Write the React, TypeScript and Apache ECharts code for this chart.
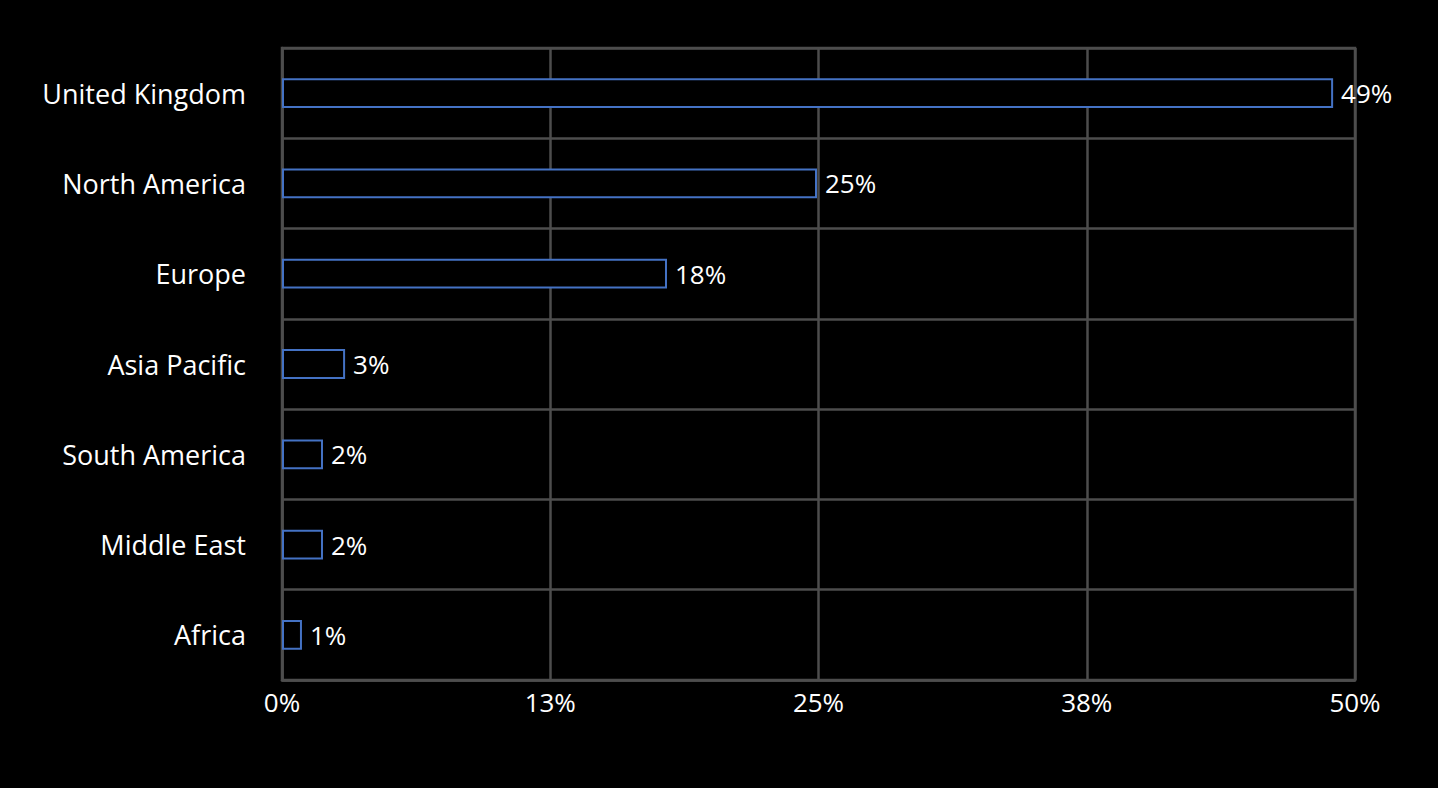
import React, { useEffect, useRef } from "react";
import * as echarts from "echarts";

const categories = ["United Kingdom", "North America", "Europe", "Asia Pacific", "South America", "Middle East", "Africa"];
const values = [48.98, 24.93, 17.94, 2.94, 1.91, 1.91, 0.93];
const axisMin = 0;
const axisMax = 50;
const axisInterval = 12.5;

export default function App() {
  const ref = useRef<HTMLDivElement>(null);
  useEffect(() => {
    if (!ref.current) return;
    const chart = echarts.init(ref.current, undefined, { renderer: "svg" });
    const font = "'Open Sans', sans-serif";
    const gridColor = "#4d4d4d";
    chart.setOption({
      animation: false,
      backgroundColor: "#000000",
      grid: {
        left: 282,
        right: 83,
        top: 48,
        bottom: 108,
        show: true,
        borderColor: gridColor,
        borderWidth: 2.5,
        backgroundColor: "transparent",
      },
      xAxis: {
        type: "value",
        min: axisMin,
        max: axisMax,
        interval: axisInterval,
        axisLine: { show: true, lineStyle: { color: gridColor, width: 2.5 } },
        axisTick: { show: false },
        splitLine: { show: true, lineStyle: { color: gridColor, width: 2.5 } },
        axisLabel: {
          color: "#ffffff",
          fontFamily: font,
          fontSize: 26,
          margin: 9,
          formatter: (v: number) => Math.round(v) + "%",
        },
      },
      yAxis: {
        type: "category",
        data: categories,
        inverse: true,
        axisLine: { show: true, lineStyle: { color: gridColor, width: 2.5 } },
        axisTick: { show: false },
        splitLine: { show: true, lineStyle: { color: gridColor, width: 2.5 } },
        axisLabel: {
          color: "#ffffff",
          fontFamily: font,
          fontSize: 27,
          margin: 36,
        },
      },
      series: [
        {
          type: "bar",
          data: values,
          barWidth: "33%",
          itemStyle: { color: "#000000", borderColor: "#4472c4", borderWidth: 2 },
          label: {
            show: true,
            position: "right",
            distance: 8,
            color: "#ffffff",
            fontFamily: font,
            fontSize: 26,
            formatter: (p: any) => Math.round(p.value) + "%",
          },
        },
      ],
    });
    return () => chart.dispose();
  }, []);
  return <div ref={ref} style={{ width: 1438, height: 788, position: "absolute", left: 0, top: 0 }} />;
}
